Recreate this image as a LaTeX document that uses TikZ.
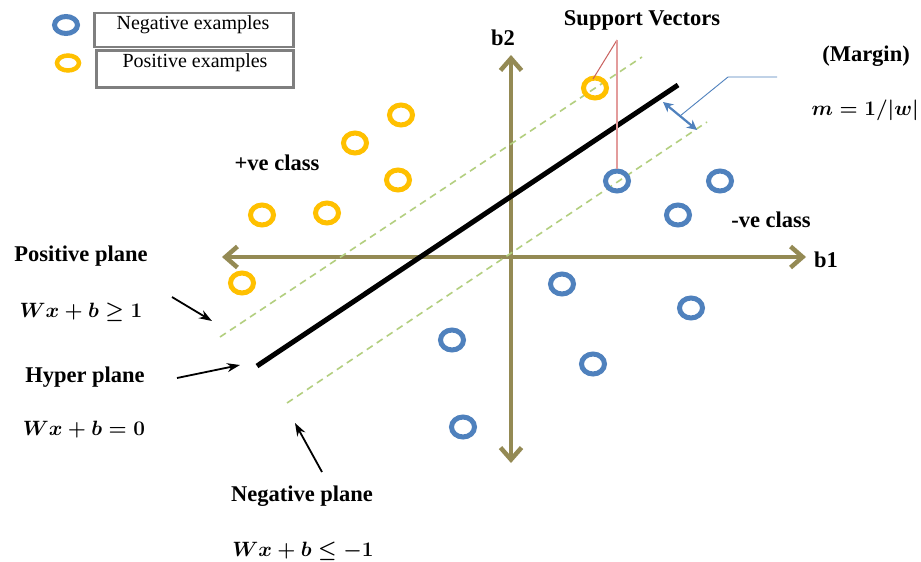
\documentclass[tikz,border=0pt]{standalone}
\usepackage{fontspec}
\setmainfont{Liberation Serif}
\usepackage{amsmath,amssymb}
\usetikzlibrary{arrows.meta,shapes.geometric,calc}
\definecolor{ringblue}{HTML}{4F81BD}
\definecolor{ringorange}{HTML}{FFC000}
\definecolor{axisolive}{HTML}{948A54}
\definecolor{planegreen}{HTML}{B3CF7F}
\definecolor{svred}{HTML}{E39C9C}
\definecolor{svdark}{HTML}{C9605D}
\definecolor{legendgray}{HTML}{7F7F7F}
\tikzset{
  ring/.style={ellipse,draw,line width=5pt,inner sep=0pt,minimum width=23pt,minimum height=20pt},
  posring/.style={ring,draw=ringorange},
  negring/.style={ring,draw=ringblue},
  lbl/.style={font=\fontsize{22.5}{26}\selectfont\bfseries,inner sep=0pt},
  eqn/.style={font=\fontsize{21}{25}\selectfont\boldmath,inner sep=0pt},
  legtext/.style={font=\fontsize{20}{24}\selectfont,inner sep=0pt},
  legbox/.style={draw=legendgray,line width=2.5pt,minimum width=199pt,minimum height=34pt,inner sep=0pt},
  axis/.style={draw=axisolive,line width=4.5pt,{Straight Barb[length=12pt,width=21pt]}-{Straight Barb[length=12pt,width=21pt]}},
  pointer/.style={-{Stealth[length=13pt,width=9pt]},line width=1.8pt},
  planeline/.style={draw=planegreen,line width=1.6pt,dash pattern=on 7pt off 5pt}
}
\begin{document}
\begin{tikzpicture}[x=1pt,y=-1pt]
\useasboundingbox[fill=white] (0,0) rectangle (921,562);

% legend
\node[negring,minimum width=23pt,minimum height=17pt] (legneg) at (66,25) {};
\node[posring,line width=4.5pt,minimum width=22pt,minimum height=15pt] (legpos) at (68,63) {};
\node[legbox] (negbox) at (194,30) {};
\node[legbox,minimum width=197pt,minimum height=37pt] (posbox) at (195,69) {};
\node[legtext] (negtxt) at (193,25) {Negative examples};
\node[legtext] (postxt) at (195,63) {Positive examples};

% axes
\node[lbl] (b1) at (826,260) {b1};
\node[lbl] (b2) at (503,38) {b2};
\coordinate (xleft) at (222,257);
\coordinate (xright) at (806,257);
\coordinate (ytop) at (511,55);
\coordinate (ybot) at (511,463);
\draw[axis] (xleft) -- (xright);
\draw[axis] (ybot) -- (ytop);

% planes
\coordinate (hpa) at (257,366);
\coordinate (hpb) at (678,85);
\coordinate (ppa) at (220,337);
\coordinate (ppb) at (642,57);
\coordinate (npa) at (287,403);
\coordinate (npb) at (707,122);
\draw[planeline] (ppa) -- (ppb);
\draw[planeline] (npa) -- (npb);
\draw[line width=5pt] (hpa) -- (hpb);

% examples
\foreach \px/\py/\nm in {595/88/p1,401/115/p2,355/143/p3,398/180/p4,262/215/p5,327/213/p6,242/283/p7}
  \node[posring] (\nm) at (\px,\py) {};
\foreach \px/\py/\nm in {617/181/n1,720/181/n2,678/215/n3,562/284/n4,691/308/n5,452/340/n6,593/364/n7,463/427/n8}
  \node[negring] (\nm) at (\px,\py) {};

% support vectors
\node[lbl] (svtxt) at (642,20) {Support Vectors};
\coordinate (svtop) at (617,40);
\draw[svdark,line width=1pt] (svtop) -- (593,79);
\draw[svred,line width=1.6pt] (svtop) -- (n1.north);

% margin
\node[lbl] (margintxt) at (866,56) {(Margin)};
\node[eqn,anchor=east] (mtxt) at (919,110) {$m = 1/|w|$};
\coordinate (mtop) at (663,102);
\coordinate (mbot) at (697,130);
\draw[ringblue,line width=2.2pt,{Stealth[length=10pt,width=10pt]}-{Stealth[length=10pt,width=10pt]}] (mtop) -- (mbot);
\draw[ringblue,line width=0.9pt] ($(mtop)!0.5!(mbot)$) -- (728,77) -- (777,77);

% class labels
\node[lbl] (pvc) at (277,163) {+ve class};
\node[lbl] (nvc) at (771,220) {-ve class};

% left labels
\node[lbl] (pptxt) at (81,256) {Positive plane};
\node[eqn] (ppeq) at (81,312) {$Wx + b \geq 1$};
\node[lbl] (hptxt) at (85,377) {Hyper plane};
\node[eqn] (hpeq) at (84,430) {$Wx + b = 0$};
\node[lbl] (nptxt) at (302,496) {Negative plane};
\node[eqn] (npeq) at (303,551) {$Wx + b \leq -1$};

\coordinate (pptail) at (172,297);
\coordinate (pphead) at (212,321);
\coordinate (hptail) at (177,378);
\coordinate (hphead) at (240,365);
\coordinate (nptail) at (322,472);
\coordinate (nphead) at (295,423);
\draw[pointer] (pptail) -- (pphead);
\draw[pointer] (hptail) -- (hphead);
\draw[pointer] (nptail) -- (nphead);
\end{tikzpicture}
\end{document}
